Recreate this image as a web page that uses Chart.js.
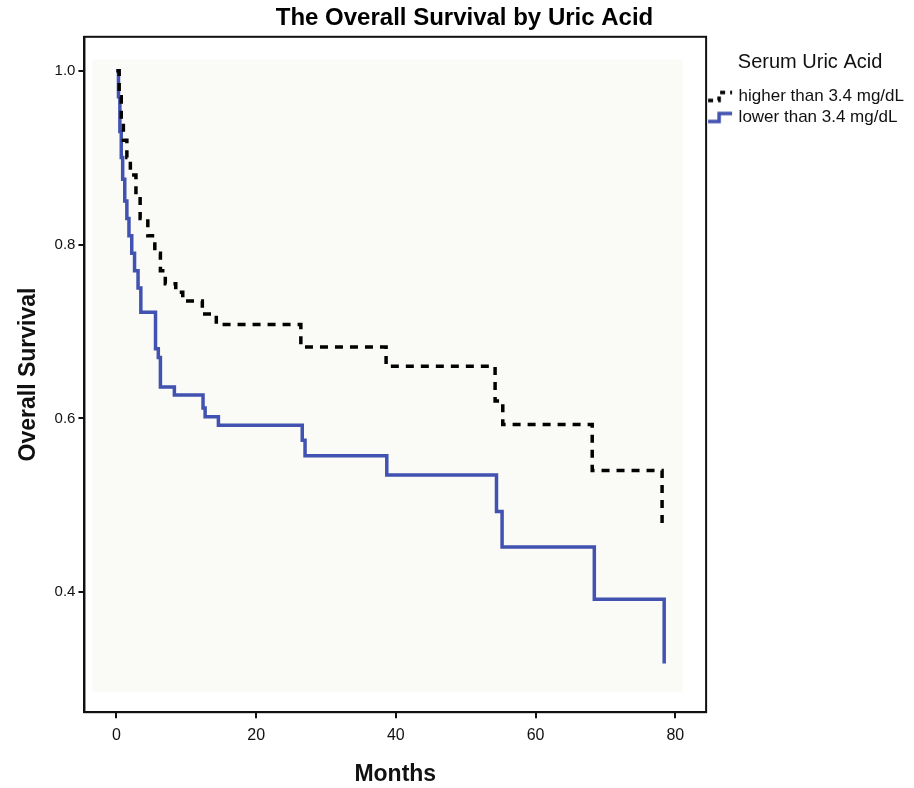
<!DOCTYPE html>
<html>
<head>
<meta charset="utf-8">
<script src="https://cdn.jsdelivr.net/npm/chart.js@4.4.1/dist/chart.umd.min.js"></script>
<style>
  html, body { margin: 0; padding: 0; background: #fff; }
  #wrap { width: 914px; height: 788px; }
</style>
</head>
<body>
<div id="wrap"><canvas id="km"></canvas></div>
<script>
// survival steps: value drops to surv at month
const highMonths = [0, 0.4, 0.7, 1.0, 1.5, 2.0, 2.8, 3.4, 4.5, 5.5, 6.3, 7.0, 8.5, 9.5, 12.3, 14.3, 26.4, 38.6, 54.2, 55.3, 68.1, 78.1];
const highSurv   = [1.0, 0.97, 0.94, 0.92, 0.90, 0.88, 0.86, 0.83, 0.81, 0.79, 0.77, 0.755, 0.745, 0.735, 0.72, 0.708, 0.682, 0.66, 0.62, 0.593, 0.54, 0.475];
const lowMonths  = [0, 0.3, 0.5, 0.7, 0.9, 1.2, 1.5, 1.8, 2.2, 2.6, 3.1, 3.5, 5.6, 6.0, 6.3, 8.3, 12.4, 12.7, 14.6, 26.6, 27.0, 38.7, 54.4, 55.2, 68.4, 78.4];
const lowSurv    = [1.0, 0.97, 0.93, 0.90, 0.875, 0.85, 0.83, 0.81, 0.79, 0.77, 0.75, 0.722, 0.68, 0.67, 0.636, 0.627, 0.612, 0.602, 0.592, 0.575, 0.557, 0.535, 0.493, 0.452, 0.392, 0.318];
const xTicks = [0, 20, 40, 60, 80];
const yTicks = [0.4, 0.6, 0.8, 1.0];
const seriesNames = ['higher than 3.4 mg/dL', 'lower than 3.4 mg/dL'];

const FONT = "'Liberation Sans', Arial, sans-serif";
const BLUE = '#4152b0';

function pts(xs, ys) {
  return xs.map((x, i) => ({ x: x, y: ys[i] }));
}

// little step icons for the legend
function stepIcon(color, dashed) {
  const c = document.createElement('canvas');
  c.width = 26; c.height = 14;
  const g = c.getContext('2d');
  g.strokeStyle = color;
  g.lineWidth = 3.5;
  if (dashed) g.setLineDash([5, 5]);
  g.beginPath();
  g.moveTo(1, 11);
  g.lineTo(12, 11);
  g.lineTo(12, 3);
  g.lineTo(25, 3);
  g.stroke();
  return c;
}

const frame = {
  id: 'frame',
  beforeDatasetsDraw(chart) {
    const { ctx, chartArea: a, scales } = chart;
    const x0 = scales.x.getPixelForValue(-3.43), x1 = scales.x.getPixelForValue(81.0);
    const y0 = scales.y.getPixelForValue(1.013), y1 = scales.y.getPixelForValue(0.285);
    ctx.save();
    ctx.fillStyle = '#fafaf6';
    ctx.fillRect(x0, y0, x1 - x0, y1 - y0);
    ctx.strokeStyle = '#111';
    ctx.lineWidth = 2;
    ctx.strokeRect(a.left, a.top, a.right - a.left, a.bottom - a.top);
    ctx.restore();
  }
};

new Chart(document.getElementById('km'), {
  type: 'line',
  data: {
    datasets: [
      {
        label: seriesNames[0],
        data: pts(highMonths, highSurv),
        borderColor: '#000',
        borderWidth: 3.5,
        borderDash: [8, 7],
        stepped: 'before',
        pointRadius: 0,
        fill: false
      },
      {
        label: seriesNames[1],
        data: pts(lowMonths, lowSurv),
        borderColor: BLUE,
        borderWidth: 3.5,
        stepped: 'before',
        pointRadius: 0,
        fill: false
      }
    ]
  },
  options: {
    responsive: true,
    maintainAspectRatio: false,
    animation: false,
    layout: { padding: { left: 15, right: 0, top: 0, bottom: 0 } },
    plugins: {
      title: {
        display: true,
        text: 'The Overall Survival by Uric Acid',
        color: '#000',
        font: { family: FONT, size: 24, weight: 'bold' },
        padding: { top: 4, bottom: 4 }
      },
      legend: {
        position: 'right',
        align: 'start',
        title: {
          display: true,
          text: 'Serum Uric Acid',
          color: '#111',
          font: { family: FONT, size: 20 },
          padding: { top: 52, bottom: 8 }
        },
        labels: {
          color: '#111',
          font: { family: FONT, size: 17 },
          usePointStyle: true,
          pointStyleWidth: 20,
          padding: 4,
          boxWidth: 20,
          generateLabels(chart) {
            return chart.data.datasets.map((ds, i) => ({
              text: ds.label,
              pointStyle: stepIcon(ds.borderColor, i === 0),
              datasetIndex: i,
              fontColor: '#111',
              lineWidth: 0,
              strokeStyle: 'transparent',
              fillStyle: 'transparent'
            }));
          }
        }
      },
      tooltip: { enabled: false }
    },
    scales: {
      x: {
        type: 'linear',
        min: -4.57,
        max: 84.4,
        afterBuildTicks(s) { s.ticks = xTicks.map(v => ({ value: v })); },
        grid: { drawOnChartArea: false, drawTicks: true, tickLength: 6, color: '#111', lineWidth: 2 },
        border: { display: true, color: '#111', width: 2 },
        ticks: { color: '#111', font: { family: FONT, size: 16 }, padding: 8, maxRotation: 0 },
        title: { display: true, text: 'Months', color: '#111', font: { family: FONT, size: 23, weight: 'bold' }, padding: { top: 7, bottom: 0 } }
      },
      y: {
        type: 'linear',
        min: 0.262,
        max: 1.039,
        afterBuildTicks(s) { s.ticks = yTicks.map(v => ({ value: v })); },
        grid: { drawOnChartArea: false, drawTicks: true, tickLength: 6, color: '#111', lineWidth: 2 },
        border: { display: true, color: '#111', width: 2 },
        ticks: { color: '#111', font: { family: FONT, size: 15 }, padding: 3, callback: v => v.toFixed(1) },
        title: { display: true, text: 'Overall Survival', color: '#111', font: { family: FONT, size: 23, weight: 'bold' }, padding: { top: 0, bottom: 9 } }
      }
    }
  },
  plugins: [frame]
});
</script>
</body>
</html>
